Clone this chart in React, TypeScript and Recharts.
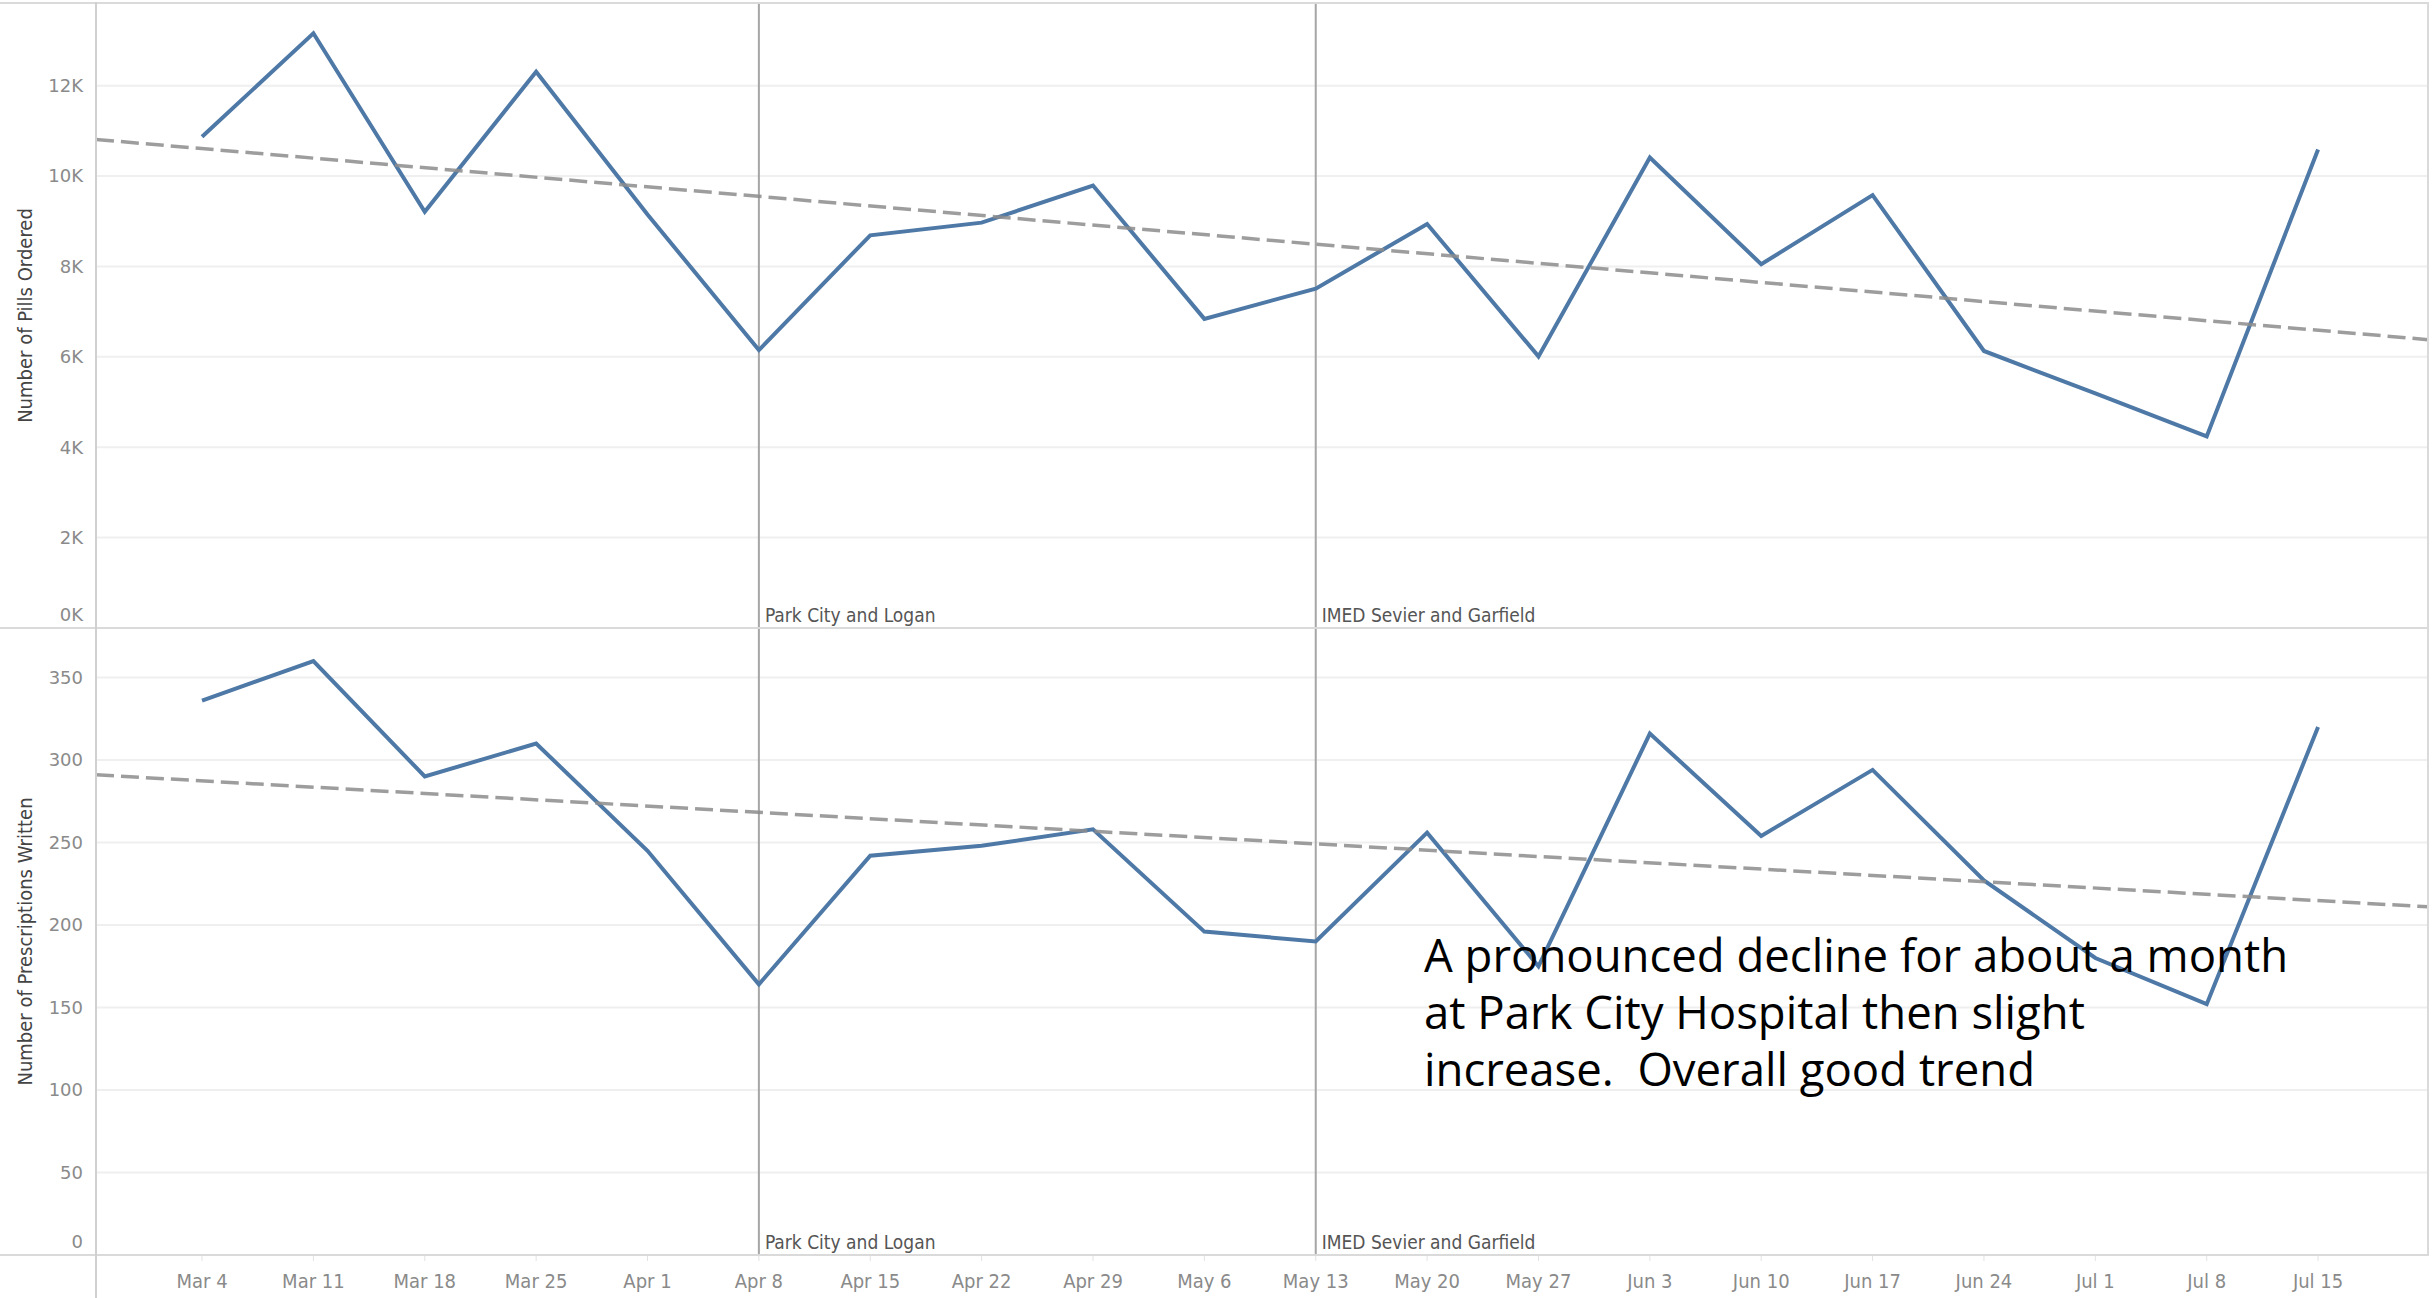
import React from "react";
import {
  LineChart,
  Line,
  XAxis,
  YAxis,
  CartesianGrid,
  ReferenceLine,
} from "recharts";

// weekly buckets, Mar 4 .. Jul 15
const weeks = [
  "Mar 4", "Mar 11", "Mar 18", "Mar 25", "Apr 1", "Apr 8", "Apr 15",
  "Apr 22", "Apr 29", "May 6", "May 13", "May 20", "May 27", "Jun 3",
  "Jun 10", "Jun 17", "Jun 24", "Jul 1", "Jul 8", "Jul 15",
];

const pillsOrdered = [
  10870, 13160, 9210, 12310, 9150, 6150, 8690, 8970, 9790, 6840,
  7510, 8940, 6010, 10410, 8050, 9580, 6130, 5190, 4240, 10590,
];

const prescriptionsWritten = [
  336, 360, 290, 310, 245, 164, 242, 248, 258, 196,
  190, 256, 175, 316, 254, 294, 227, 180, 152, 320,
];

// trend line end points (edge of the axis range)
const trendWeeks = [-0.952, 19.987];
const pillsTrend = [10810, 6380];
const prescriptionsTrend = [291, 211];

const pillsTicks = [0, 2000, 4000, 6000, 8000, 10000, 12000];
const prescriptionTicks = [0, 50, 100, 150, 200, 250, 300, 350];
const weekTicks = weeks.map((_, i) => i);

const siteChanges = [
  { week: 5, label: "Park City and Logan" },
  { week: 10, label: "IMED Sevier and Garfield" },
];

const noteLines = [
  "A pronounced decline for about a month",
  "at Park City Hospital then slight",
  "increase.  Overall good trend",
];

const pillsData = weeks.map((name, i) => ({ week: i, name, value: pillsOrdered[i] }));
const rxData = weeks.map((name, i) => ({ week: i, name, value: prescriptionsWritten[i] }));
const pillsTrendData = trendWeeks.map((w, i) => ({ week: w, value: pillsTrend[i] }));
const rxTrendData = trendWeeks.map((w, i) => ({ week: w, value: prescriptionsTrend[i] }));

const W = 2433;
const BLUE = "#4e79a7";
const CONDENSED = "'DejaVu Sans Condensed', 'DejaVu Sans', sans-serif";
const X_DOMAIN = [-0.952, 19.987];

function YTick(props: any) {
  const { x, y, payload, fmt } = props;
  const shift = payload.value === 0 ? -13 : 0;
  return (
    <text
      x={x}
      y={y + shift}
      dy="0.35em"
      textAnchor="end"
      fill="#8a8a8a"
      fontSize={18}
      fontFamily="'DejaVu Sans', sans-serif"
    >
      {fmt(payload.value)}
    </text>
  );
}

function siteLines() {
  return siteChanges.map((s) => (
    <ReferenceLine
      key={s.label}
      x={s.week}
      stroke="#a6a6a6"
      strokeWidth={2}
      label={{
        value: s.label,
        position: "insideBottomLeft",
        offset: 6,
        fill: "#555",
        fontSize: 19,
        fontFamily: CONDENSED,
      }}
    />
  ));
}

function titleLabel(text: string) {
  return {
    value: text,
    angle: -90,
    position: "center" as const,
    dx: -23,
    fill: "#444",
    fontSize: 20,
    fontFamily: CONDENSED,
  };
}

export default function App() {
  return (
    <div
      style={{
        position: "absolute",
        left: 0,
        top: 0,
        width: W,
        height: 1298,
        background: "#fff",
        overflow: "hidden",
      }}
    >
      {/* top pane: pills */}
      <div style={{ position: "absolute", left: 0, top: 0 }}>
        <LineChart
          width={W}
          height={628}
          margin={{ top: 3, right: 5, bottom: 0, left: 0 }}
        >
          <CartesianGrid vertical={false} stroke="#efefef" strokeWidth={2} />
          <XAxis
            dataKey="week"
            type="number"
            domain={X_DOMAIN}
            ticks={weekTicks}
            allowDataOverflow
            hide
          />
          <YAxis
            type="number"
            domain={[0, 13830]}
            ticks={pillsTicks}
            interval={0}
            width={96}
            axisLine={false}
            tickLine={false}
            tickSize={0}
            tickMargin={13}
            tick={(p: any) => <YTick {...p} fmt={(v: number) => `${v / 1000}K`} />}
            label={titleLabel("Number of Pills Ordered")}
          />
          {siteLines()}
          <Line
            data={pillsData}
            dataKey="value"
            stroke={BLUE}
            strokeWidth={4}
            dot={false}
            isAnimationActive={false}
          />
          <Line
            data={pillsTrendData}
            dataKey="value"
            stroke="#8c8c8c"
            strokeOpacity={0.85}
            strokeWidth={3.5}
            strokeDasharray="18 7"
            dot={false}
            isAnimationActive={false}
          />
        </LineChart>
      </div>

      {/* bottom pane: prescriptions */}
      <div style={{ position: "absolute", left: 0, top: 628 }}>
        <LineChart
          width={W}
          height={670}
          margin={{ top: 0, right: 5, bottom: 0, left: 0 }}
        >
          <CartesianGrid vertical={false} stroke="#efefef" strokeWidth={2} />
          <XAxis
            dataKey="week"
            type="number"
            domain={X_DOMAIN}
            ticks={weekTicks}
            interval={0}
            allowDataOverflow
            height={43}
            axisLine={false}
            tickLine={{ stroke: "#e2e2e2" }}
            tickSize={6}
            tickMargin={13}
            tickFormatter={(v: number) => weeks[v] ?? ""}
            tick={{ fill: "#8a8a8a", fontSize: 20, fontFamily: CONDENSED }}
          />
          <YAxis
            type="number"
            domain={[0, 380]}
            ticks={prescriptionTicks}
            interval={0}
            width={96}
            axisLine={false}
            tickLine={false}
            tickSize={0}
            tickMargin={13}
            tick={(p: any) => <YTick {...p} fmt={(v: number) => `${v}`} />}
            label={titleLabel("Number of Prescriptions Written")}
          />
          {siteLines()}
          <Line
            data={rxData}
            dataKey="value"
            stroke={BLUE}
            strokeWidth={4}
            dot={false}
            isAnimationActive={false}
          />
          <Line
            data={rxTrendData}
            dataKey="value"
            stroke="#8c8c8c"
            strokeOpacity={0.85}
            strokeWidth={3.5}
            strokeDasharray="18 7"
            dot={false}
            isAnimationActive={false}
          />
        </LineChart>
      </div>

      {/* pane frame */}
      <div style={{ position: "absolute", left: 0, top: 2, width: 2429, height: 2, background: "#dadada" }} />
      <div style={{ position: "absolute", left: 0, top: 627, width: 2429, height: 2, background: "#dadada" }} />
      <div style={{ position: "absolute", left: 0, top: 1254, width: 2429, height: 2, background: "#dadada" }} />
      <div style={{ position: "absolute", left: 95, top: 2, width: 2, height: 1296, background: "#d0d0d0" }} />
      <div style={{ position: "absolute", left: 2427, top: 2, width: 2, height: 1254, background: "#dadada" }} />

      {/* annotation */}
      <svg
        width={W}
        height={1298}
        style={{ position: "absolute", left: 0, top: 0, pointerEvents: "none" }}
      >
        {noteLines.map((t, i) => (
          <text
            key={i}
            x={1424}
            y={972 + i * 57}
            fill="#000"
            fontSize={45.5}
            fontFamily="'Open Sans', sans-serif"
            style={{ whiteSpace: "pre" }}
          >
            {t}
          </text>
        ))}
      </svg>
    </div>
  );
}
